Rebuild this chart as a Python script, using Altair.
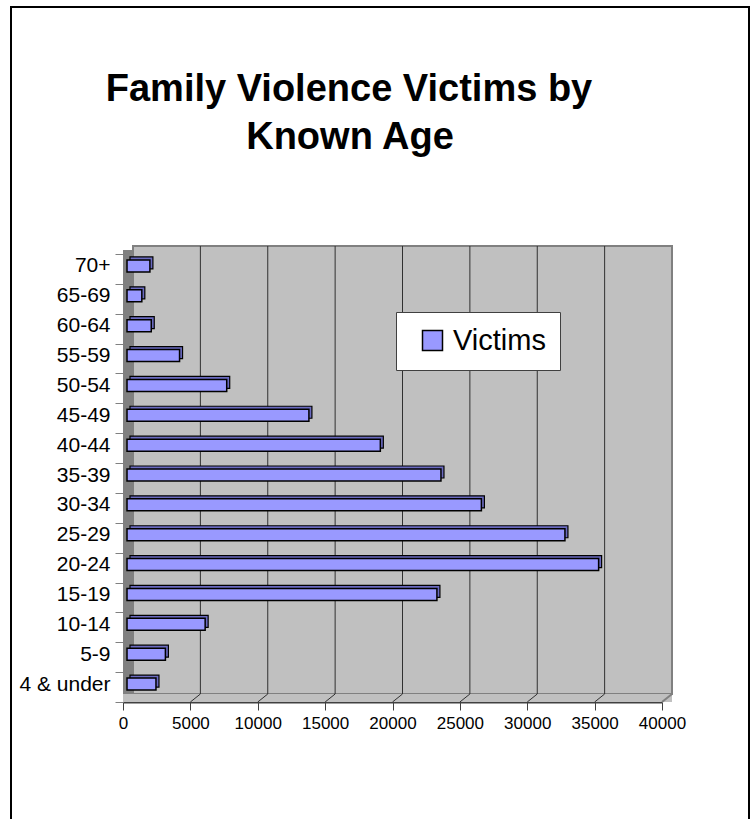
import altair as alt
import pandas as pd

# ---- data ----
ages = ["70+", "65-69", "60-64", "55-59", "50-54", "45-49", "40-44", "35-39",
        "30-34", "25-29", "20-24", "15-19", "10-14", "5-9", "4 & under"]
victims = [1700, 1100, 1800, 3900, 7400, 13500, 18800, 23300,
           26300, 32500, 35000, 23000, 5800, 2850, 2150]
x_ticks = [0, 5000, 10000, 15000, 20000, 25000, 30000, 35000, 40000]
grid_vals = [5000, 10000, 15000, 20000, 25000, 30000, 35000]
series_name = "Victims"
title_lines = ["Family Violence Victims by", "Known Age"]

FONT = "Liberation Sans, Arial, sans-serif"
W, H = 539, 448
DX, DY = 10, 8  # depth of the 3D box

bars_df = pd.DataFrame({"age": ages, "victims": victims, "series": [series_name] * len(ages)})
wall_df = pd.DataFrame({"x0": [0], "x1": [x_ticks[-1]]})
grid_df = pd.DataFrame({"v": grid_vals})
one_df = pd.DataFrame({"a": [0]})

xscale = alt.Scale(domain=[0, x_ticks[-1]], nice=False, zero=True)
yscale = alt.Scale(domain=ages, paddingInner=0, paddingOuter=0)

# outer border
frame = alt.Chart(one_df).mark_rect(fillOpacity=0, stroke="black", strokeWidth=2).encode(
    x=alt.value(-112), x2=alt.value(626), y=alt.value(-247), y2=alt.value(620)
)

# back wall
back = alt.Chart(wall_df).mark_rect(
    fill="#c0c0c0", stroke="#808080", strokeWidth=2,
    xOffset=DX, x2Offset=DX,
).encode(
    x=alt.X("x0:Q", scale=xscale),
    x2="x1:Q",
    y=alt.value(-DY), y2=alt.value(H - DY),
)

# left wall
left = alt.Chart(wall_df).mark_rect(fill="#808080", x2Offset=DX).encode(
    x=alt.X("x0:Q", scale=xscale), x2="x0:Q",
    y=alt.value(-DY / 2), y2=alt.value(H - DY / 2),
)

# floor
floor = alt.Chart(wall_df).mark_rect(fill="#c0c0c0", x2Offset=DX).encode(
    x=alt.X("x0:Q", scale=xscale), x2="x1:Q",
    y=alt.value(H - DY), y2=alt.value(H),
)

# grid lines on back wall
grid = alt.Chart(grid_df).mark_rule(color="#303030", strokeWidth=1, xOffset=DX).encode(
    x=alt.X("v:Q", scale=xscale),
    y=alt.value(-DY), y2=alt.value(H - DY),
)

# floor diagonals
diag = alt.Chart(grid_df).mark_rule(color="#303030", strokeWidth=1, x2Offset=DX).encode(
    x=alt.X("v:Q", scale=xscale), x2="v:Q",
    y=alt.value(H), y2=alt.value(H - DY),
)
diag_end = alt.Chart(wall_df).mark_rule(color="#808080", strokeWidth=2, x2Offset=DX).encode(
    x=alt.X("x1:Q", scale=xscale), x2="x1:Q",
    y=alt.value(H), y2=alt.value(H - DY),
)

# 3D bars: depth faces then front face
bar_depth = alt.Chart(bars_df).mark_bar(
    color="#6a6ac0", stroke="black", strokeWidth=1.2, height=12,
    xOffset=7, x2Offset=7, yOffset=-6, y2Offset=-6,
).encode(
    x=alt.X("victims:Q", scale=xscale),
    y=alt.Y("age:N", scale=yscale, sort=ages),
)

bar_front = alt.Chart(bars_df).mark_bar(
    stroke="black", strokeWidth=1.5, height=12,
    xOffset=4, x2Offset=4, yOffset=-3, y2Offset=-3,
).encode(
    x=alt.X(
        "victims:Q", scale=xscale,
        axis=alt.Axis(
            values=x_ticks, format="d", title=None, grid=False,
            labelFontSize=17, labelFont=FONT, labelColor="black",
            tickSize=8, tickColor="#404040", domainColor="#404040", domainWidth=2,
            labelPadding=5, labelFlush=False,
        ),
    ),
    y=alt.Y(
        "age:N", scale=yscale, sort=ages,
        axis=alt.Axis(
            title=None, grid=False, domain=False, tickBand="extent",
            labelFontSize=21, labelFont=FONT, labelColor="black",
            tickSize=8, tickColor="#808080", labelPadding=5, labelOffset=-3,
        ),
    ),
    color=alt.Color(
        "series:N",
        scale=alt.Scale(domain=[series_name], range=["#9999ff"]),
        legend=alt.Legend(
            title=None, orient="none", legendX=273, legendY=58,
            symbolType="square", symbolSize=400, symbolStrokeColor="black",
            symbolStrokeWidth=1.5, symbolOpacity=1,
            labelFontSize=29, labelFont=FONT, labelColor="black", labelOffset=6,
            fillColor="white", strokeColor="#404040", padding=14, symbolOffset=8,
        ),
    ),
)

title1 = alt.Chart(one_df).mark_text(
    text=title_lines[0], font=FONT, fontSize=38, fontWeight="bold", color="black",
    align="center", baseline="alphabetic",
).encode(x=alt.value(349 - 123), y=alt.value(101 - 254))
title2 = alt.Chart(one_df).mark_text(
    text=title_lines[1], font=FONT, fontSize=38, fontWeight="bold", color="black",
    align="center", baseline="alphabetic",
).encode(x=alt.value(350 - 123), y=alt.value(149 - 254))

chart = alt.layer(
    frame, back, left, floor, grid, diag, diag_end, bar_depth, bar_front, title1, title2
).properties(
    width=W, height=H,
    autosize=alt.AutoSizeParams(type="none"),
    padding={"left": 123, "top": 254, "right": 93, "bottom": 117},
).configure_view(stroke=None).configure(background="white")

chart.save("out.html", embed_options={"renderer": "svg", "actions": False})
